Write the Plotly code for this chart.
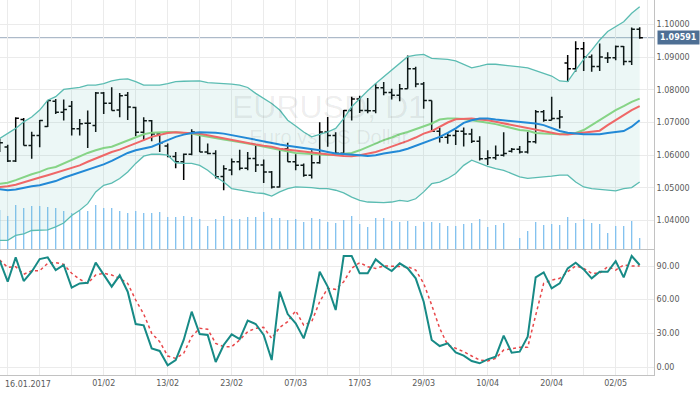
import pandas as pd
import plotly.graph_objects as go

# ---------------- data ----------------
DATES = pd.bdate_range("2017-01-13", "2017-05-05")  # daily bars (13.01 .. 05.05.2017)

OPEN = [1.0620, 1.0625, 1.0582, 1.0709, 1.0630, 1.0660, 1.0688, 1.0765, 1.0731, 1.0750,
        1.0681, 1.0698, 1.0691, 1.0790, 1.0759, 1.0738, 1.0783, 1.0746, 1.0670, 1.0705,
        1.0665, 1.0628, 1.0596, 1.0580, 1.0603, 1.0666, 1.0610, 1.0605, 1.0535, 1.0555,
        1.0580, 1.0560, 1.0590, 1.0570, 1.0549, 1.0503, 1.0620, 1.0580, 1.0569, 1.0539,
        1.0577, 1.0671, 1.0660, 1.0606, 1.0737, 1.0772, 1.0737, 1.0736, 1.0806, 1.0792,
        1.0783, 1.0803, 1.0864, 1.0818, 1.0767, 1.0673, 1.0655, 1.0660, 1.0673, 1.0665,
        1.0643, 1.0589, 1.0592, 1.0600, 1.0612, 1.0618, 1.0610, 1.0641, 1.0733, 1.0707,
        1.0712, 1.0882, 1.0864, 1.0925, 1.0900, 1.0871, 1.0897, 1.0898, 1.0932, 1.0886,
        1.0985]
HIGH = [1.0650, 1.0632, 1.0716, 1.0714, 1.0672, 1.0708, 1.0769, 1.0772, 1.0770, 1.0766,
        1.0711, 1.0737, 1.0793, 1.0793, 1.0808, 1.0790, 1.0793, 1.0748, 1.0716, 1.0708,
        1.0667, 1.0636, 1.0610, 1.0605, 1.0679, 1.0671, 1.0636, 1.0615, 1.0569, 1.0590,
        1.0617, 1.0610, 1.0631, 1.0587, 1.0552, 1.0620, 1.0638, 1.0603, 1.0575, 1.0615,
        1.0701, 1.0717, 1.0670, 1.0738, 1.0779, 1.0782, 1.0775, 1.0820, 1.0824, 1.0803,
        1.0818, 1.0905, 1.0870, 1.0824, 1.0767, 1.0684, 1.0668, 1.0678, 1.0685, 1.0681,
        1.0658, 1.0615, 1.0630, 1.0670, 1.0622, 1.0628, 1.0671, 1.0738, 1.0738, 1.0779,
        1.0738, 1.0906, 1.0948, 1.0946, 1.0908, 1.0941, 1.0915, 1.0935, 1.0934, 1.0990,
        1.0991]
LOW = [1.0610, 1.0579, 1.0579, 1.0630, 1.0589, 1.0624, 1.0686, 1.0726, 1.0706, 1.0660,
       1.0660, 1.0622, 1.0671, 1.0726, 1.0737, 1.0716, 1.0708, 1.0658, 1.0645, 1.0643,
       1.0610, 1.0594, 1.0560, 1.0524, 1.0600, 1.0610, 1.0603, 1.0529, 1.0493, 1.0539,
       1.0554, 1.0554, 1.0549, 1.0515, 1.0498, 1.0501, 1.0580, 1.0554, 1.0534, 1.0529,
       1.0574, 1.0626, 1.0603, 1.0605, 1.0706, 1.0729, 1.0728, 1.0728, 1.0783, 1.0770,
       1.0765, 1.0803, 1.0808, 1.0742, 1.0673, 1.0639, 1.0635, 1.0631, 1.0627, 1.0637,
       1.0584, 1.0570, 1.0586, 1.0596, 1.0608, 1.0605, 1.0605, 1.0636, 1.0702, 1.0707,
       1.0682, 1.0824, 1.0855, 1.0857, 1.0855, 1.0857, 1.0882, 1.0890, 1.0875, 1.0876,
       1.0956]
CLOSE = [1.0638, 1.0582, 1.0713, 1.0630, 1.0660, 1.0706, 1.0767, 1.0731, 1.0740, 1.0681,
         1.0696, 1.0698, 1.0790, 1.0759, 1.0737, 1.0782, 1.0747, 1.0670, 1.0705, 1.0665,
         1.0638, 1.0596, 1.0580, 1.0603, 1.0671, 1.0610, 1.0605, 1.0534, 1.0559, 1.0580,
         1.0560, 1.0590, 1.0570, 1.0549, 1.0503, 1.0620, 1.0580, 1.0569, 1.0539, 1.0577,
         1.0671, 1.0660, 1.0606, 1.0737, 1.0772, 1.0737, 1.0736, 1.0806, 1.0792, 1.0783,
         1.0803, 1.0864, 1.0818, 1.0767, 1.0673, 1.0655, 1.0660, 1.0673, 1.0665, 1.0643,
         1.0589, 1.0592, 1.0600, 1.0605, 1.0618, 1.0610, 1.0641, 1.0733, 1.0707, 1.0712,
         1.0717, 1.0864, 1.0925, 1.0900, 1.0871, 1.0900, 1.0898, 1.0932, 1.0886, 1.0985,
         1.09591]

BB_UPPER = [1.0651, 1.0666, 1.0682, 1.0702, 1.0717, 1.0738, 1.0768, 1.0779, 1.0801, 1.0804,
            1.0807, 1.0814, 1.0814, 1.0819, 1.0827, 1.0832, 1.0833, 1.0825, 1.0814, 1.0814,
            1.0814, 1.0819, 1.0825, 1.0826, 1.0826, 1.0827, 1.0822, 1.0821, 1.0819, 1.0817,
            1.0814, 1.0807, 1.0789, 1.0773, 1.0758, 1.0738, 1.0707, 1.0689, 1.0671, 1.0656,
            1.0664, 1.0671, 1.0682, 1.0712, 1.0748, 1.0773, 1.0797, 1.0819, 1.0840, 1.0858,
            1.0881, 1.0901, 1.0906, 1.0908, 1.0896, 1.0895, 1.0893, 1.0888, 1.0878, 1.0867,
            1.0872, 1.0878, 1.0878, 1.0876, 1.0872, 1.0870, 1.0867, 1.0858, 1.0850, 1.0842,
            1.0827, 1.0825, 1.0860, 1.0893, 1.0921, 1.0952, 1.0978, 1.0993, 1.1008, 1.1034,
            1.1054]
BB_LOWER = [1.0340, 1.0340, 1.0355, 1.0360, 1.0370, 1.0370, 1.0372, 1.0381, 1.0393, 1.0416,
            1.0432, 1.0452, 1.0488, 1.0508, 1.0515, 1.0529, 1.0549, 1.0575, 1.0597, 1.0603,
            1.0603, 1.0600, 1.0577, 1.0575, 1.0575, 1.0569, 1.0554, 1.0534, 1.0518, 1.0498,
            1.0493, 1.0488, 1.0485, 1.0483, 1.0475, 1.0488, 1.0498, 1.0503, 1.0503, 1.0501,
            1.0498, 1.0498, 1.0493, 1.0485, 1.0472, 1.0462, 1.0457, 1.0455, 1.0455, 1.0457,
            1.0462, 1.0459, 1.0467, 1.0488, 1.0513, 1.0518, 1.0529, 1.0544, 1.0569, 1.0585,
            1.0575, 1.0566, 1.0559, 1.0554, 1.0544, 1.0534, 1.0529, 1.0531, 1.0532, 1.0536,
            1.0539, 1.0539, 1.0518, 1.0503, 1.0498, 1.0495, 1.0493, 1.0491, 1.0498, 1.0501,
            1.0518]
MA_GREEN = [1.0513, 1.0516, 1.0524, 1.0534, 1.0542, 1.0549, 1.0559, 1.0564, 1.0575, 1.0585,
            1.0597, 1.0607, 1.0615, 1.0622, 1.0626, 1.0636, 1.0646, 1.0656, 1.0664, 1.0669,
            1.0671, 1.0671, 1.0670, 1.0669, 1.0666, 1.0661, 1.0656, 1.0651, 1.0648, 1.0644,
            1.0641, 1.0636, 1.0631, 1.0626, 1.0620, 1.0615, 1.0610, 1.0607, 1.0605, 1.0603,
            1.0602, 1.0601, 1.0602, 1.0604, 1.0607, 1.0615, 1.0626, 1.0636, 1.0646, 1.0654,
            1.0664, 1.0671, 1.0679, 1.0689, 1.0697, 1.0709, 1.0712, 1.0712, 1.0711, 1.0707,
            1.0702, 1.0699, 1.0695, 1.0689, 1.0682, 1.0677, 1.0675, 1.0668, 1.0666, 1.0664,
            1.0664, 1.0666, 1.0668, 1.0677, 1.0692, 1.0707, 1.0722, 1.0738, 1.0750, 1.0763,
            1.0773]
MA_RED = [1.0503, 1.0505, 1.0510, 1.0518, 1.0524, 1.0532, 1.0539, 1.0546, 1.0554, 1.0561,
          1.0569, 1.0580, 1.0590, 1.0600, 1.0610, 1.0617, 1.0626, 1.0636, 1.0646, 1.0656,
          1.0663, 1.0668, 1.0670, 1.0669, 1.0668, 1.0666, 1.0661, 1.0656, 1.0651, 1.0646,
          1.0641, 1.0636, 1.0633, 1.0629, 1.0626, 1.0620, 1.0617, 1.0613, 1.0610, 1.0607,
          1.0605, 1.0603, 1.0600, 1.0598, 1.0597, 1.0600, 1.0605, 1.0610, 1.0618, 1.0626,
          1.0636, 1.0644, 1.0654, 1.0666, 1.0674, 1.0687, 1.0700, 1.0710, 1.0712, 1.0712,
          1.0709, 1.0707, 1.0702, 1.0697, 1.0692, 1.0687, 1.0682, 1.0677, 1.0674, 1.0668,
          1.0664, 1.0663, 1.0666, 1.0668, 1.0671, 1.0675, 1.0692, 1.0707, 1.0722, 1.0738,
          1.0750]
MA_BLUE = [1.0496, 1.0493, 1.0495, 1.0501, 1.0505, 1.0508, 1.0515, 1.0521, 1.0531, 1.0539,
           1.0546, 1.0554, 1.0564, 1.0572, 1.0583, 1.0595, 1.0607, 1.0615, 1.0620, 1.0626,
           1.0636, 1.0646, 1.0656, 1.0663, 1.0668, 1.0670, 1.0670, 1.0669, 1.0666, 1.0661,
           1.0656, 1.0651, 1.0646, 1.0641, 1.0636, 1.0633, 1.0629, 1.0626, 1.0622, 1.0619,
           1.0615, 1.0610, 1.0605, 1.0604, 1.0603, 1.0600, 1.0598, 1.0600, 1.0605, 1.0608,
           1.0613, 1.0620, 1.0629, 1.0636, 1.0646, 1.0656, 1.0668, 1.0682, 1.0699, 1.0707,
           1.0712, 1.0712, 1.0709, 1.0707, 1.0705, 1.0702, 1.0699, 1.0697, 1.0692, 1.0682,
           1.0674, 1.0669, 1.0666, 1.0664, 1.0664, 1.0664, 1.0668, 1.0671, 1.0674, 1.0687,
           1.0707]
VOLUME = [160, 136, 180, 168, 176, 176, 172, 168, 156, 148,
          156, 156, 180, 168, 168, 156, 148, 156, 148, 148,
          152, 132, 132, 136, 132, 124, 96, 124, 136, 124,
          124, 132, 132, 152, 128, 128, 120, 124, 112, 128,
          124, 112, 108, 120, 136, 104, 92, 128, 128, 116,
          112, 116, 96, 112, 112, 108, 96, 96, 104, 108,
          124, 92, 100, 108, 0, 48, 76, 112, 100, 104,
          100, 132, 108, 124, 108, 104, 68, 96, 96, 116,
          48]
STOCH_K = [94.7, 76.0, 97.7, 76.6, 84.9, 96.2, 97.7, 86.4, 90.9, 70.7,
           74.5, 75.1, 93.0, 82.0, 71.6, 81.7, 67.1, 38.3, 37.1, 16.6,
           14.3, 1.5, 6.2, 24.1, 49.3, 29.4, 28.5, 4.5, 19.6, 29.1,
           24.9, 41.3, 38.3, 28.5, 6.2, 67.1, 47.2, 38.9, 25.5, 47.8,
           84.9, 71.6, 50.8, 98.9, 98.9, 83.5, 83.5, 95.9, 90.0, 85.5,
           92.4, 87.9, 79.0, 58.2, 24.1, 18.7, 21.1, 13.1, 10.1, 5.3,
           3.3, 6.8, 9.2, 27.9, 12.8, 13.7, 27.0, 79.9, 84.3, 70.1,
           74.5, 87.9, 93.0, 87.0, 79.0, 84.9, 84.9, 94.4, 79.9, 98.9,
           90.9]
STOCH_D = [95.3, 88.8, 89.4, 82.6, 85.8, 85.8, 92.4, 93.0, 91.5, 83.5,
           78.1, 74.5, 82.0, 83.5, 82.0, 79.0, 74.5, 59.7, 47.2, 30.0,
           22.6, 9.8, 7.7, 12.2, 27.0, 34.5, 33.6, 21.1, 18.1, 18.1,
           24.1, 31.5, 34.5, 35.3, 25.5, 35.3, 40.4, 50.2, 37.4, 40.4,
           58.2, 70.1, 69.2, 76.0, 87.9, 93.0, 89.4, 87.9, 90.0, 90.0,
           89.4, 89.4, 86.4, 74.5, 55.2, 34.5, 19.6, 16.6, 13.7, 9.8,
           6.2, 5.3, 7.7, 15.1, 16.6, 17.5, 17.5, 44.8, 74.5, 77.5,
           79.0, 84.9, 90.0, 87.9, 83.5, 83.5, 89.4, 86.4, 90.9, 90.0,
           90.0]

LAST_PRICE = 1.09591
PRICE_TICKS = [1.04, 1.05, 1.06, 1.07, 1.08, 1.09, 1.10]
STOCH_TICKS = [0, 30, 60, 90]
TICK_DATES = ["2017-01-16", "2017-02-01", "2017-02-13", "2017-02-23", "2017-03-07",
              "2017-03-17", "2017-03-29", "2017-04-10", "2017-04-20", "2017-05-02"]
TICK_LABELS = ["16.01.2017", "01/02", "13/02", "23/02", "07/03",
               "17/03", "29/03", "10/04", "20/04", "02/05"]
SYMBOL = "EURUSD, D1"
SYMBOL_DESC = "Euro vs US Dollar"

# ---------------- figure ----------------
# bar positions: 0 = 16.01.2017 (first labelled bar)
xpos = [i - 1 for i in range(len(DATES))]
date_str = [d.strftime("%Y-%m-%d") for d in DATES]
label_for = {date_str.index(d) - 1: t for d, t in zip(TICK_DATES, TICK_LABELS)}
grid_pos = list(range(0, xpos[-1] + 2, 4))
grid_text = [("" if p == 0 else label_for.get(p, "")) for p in grid_pos]

FONT = "DejaVu Sans"
GRID = "#ebebeb"
AXLINE = "#c2c2c2"
TXT = "#5a5a5a"

fig = go.Figure()
fig.add_trace(go.Bar(x=xpos, y=VOLUME, width=0.16, marker=dict(color="#7fc0ef", line=dict(width=0)),
                     xaxis="x", yaxis="y", hoverinfo="skip", showlegend=False))
fig.add_trace(go.Scatter(x=xpos, y=BB_UPPER, mode="lines", line=dict(color="#5bbcb2", width=1.3),
                         xaxis="x", yaxis="y3", hoverinfo="skip", showlegend=False))
fig.add_trace(go.Scatter(x=xpos, y=BB_LOWER, mode="lines", line=dict(color="#5bbcb2", width=1.3),
                         fill="tonexty", fillcolor="rgba(110,195,185,0.13)",
                         xaxis="x", yaxis="y3", hoverinfo="skip", showlegend=False))
for ma, col in [(MA_GREEN, "#86d486"), (MA_RED, "#ef6767"), (MA_BLUE, "#2289d6")]:
    fig.add_trace(go.Scatter(x=xpos, y=ma, mode="lines", line=dict(color=col, width=2),
                             xaxis="x", yaxis="y3", hoverinfo="skip", showlegend=False))
fig.add_trace(go.Ohlc(x=xpos, open=OPEN, high=HIGH, low=LOW, close=CLOSE, tickwidth=0.4,
                      increasing=dict(line=dict(color="black", width=1.5)),
                      decreasing=dict(line=dict(color="black", width=1.5)),
                      xaxis="x", yaxis="y3", hoverinfo="skip", showlegend=False))
fig.add_trace(go.Scatter(x=xpos, y=STOCH_D, mode="lines", line=dict(color="#e8474a", width=1.5, dash="dot"),
                         xaxis="x", yaxis="y2", hoverinfo="skip", showlegend=False))
fig.add_trace(go.Scatter(x=xpos, y=STOCH_K, mode="lines", line=dict(color="#178a86", width=2),
                         xaxis="x", yaxis="y2", hoverinfo="skip", showlegend=False))

fig.update_layout(
    width=700, height=394,
    margin=dict(l=0, r=0, t=0, b=19),
    paper_bgcolor="white", plot_bgcolor="white",
    font=dict(family=FONT, size=8, color=TXT),
    showlegend=False,
    xaxis=dict(domain=[0, 654 / 700], range=[-0.9625, 80.79], anchor="y2",
               tickmode="array", tickvals=grid_pos, ticktext=grid_text,
               showgrid=True, gridcolor=GRID, gridwidth=1, zeroline=False,
               showline=True, linecolor=AXLINE, linewidth=1, mirror=True,
               ticks="", ticklen=0,
               tickfont=dict(family=FONT, size=8, color=TXT),
               rangeslider=dict(visible=False), fixedrange=True),
    yaxis=dict(domain=[1 / 3, 1], range=[0, 1000], visible=False, anchor="x", fixedrange=True),
    yaxis3=dict(overlaying="y", anchor="x", side="right", range=[1.03104, 1.10743],
                tickmode="array", tickvals=PRICE_TICKS, ticktext=[f"{v:.5f}" for v in PRICE_TICKS],
                showgrid=True, gridcolor=GRID, zeroline=False,
                showline=True, linecolor=AXLINE, ticks="", ticklen=0,
                tickfont=dict(family=FONT, size=8, color=TXT), fixedrange=True),
    yaxis2=dict(domain=[0, 1 / 3], anchor="x", side="right", range=[-7.13, 104.26],
                tickmode="array", tickvals=STOCH_TICKS, ticktext=[f"{v:.2f}" for v in STOCH_TICKS],
                showgrid=True, gridcolor=GRID, zeroline=False,
                showline=True, linecolor=AXLINE, ticks="", ticklen=0,
                tickfont=dict(family=FONT, size=8, color=TXT), fixedrange=True),
)

# last-price line and label
fig.add_shape(type="line", xref="x domain", x0=0, x1=1, yref="y3", y0=LAST_PRICE, y1=LAST_PRICE,
              line=dict(color="#9aabbd", width=1), layer="below")
fig.add_annotation(x=1, xref="paper", xanchor="right", y=LAST_PRICE, yref="y3", yanchor="middle",
                   text=f"<b>{LAST_PRICE:.5f}</b>", showarrow=False, bgcolor="#4e6f94",
                   borderpad=2, font=dict(family=FONT, size=8, color="white"))
# first date label (shifted so it stays inside the chart)
fig.add_annotation(x=0, xref="x", xanchor="left", xshift=-5, y=0, yref="paper", yanchor="top",
                   yshift=-3, text=TICK_LABELS[0], showarrow=False,
                   font=dict(family=FONT, size=8, color=TXT))
# watermark (one text block: symbol over description)
fig.add_annotation(x=329 / 700, xref="paper", y=1 - 88 / 375, yref="paper",
                   text=f"<span style='font-size:32px'>{SYMBOL}</span><br>{SYMBOL_DESC}",
                   showarrow=False, borderpad=0, align="center",
                   font=dict(family="Liberation Sans", size=20, color="rgba(0,0,0,0.075)"))

fig.write_html("out.html", config=dict(displayModeBar=False, staticPlot=True),
               post_script="document.body.style.margin='0';document.body.style.overflow='hidden';")
